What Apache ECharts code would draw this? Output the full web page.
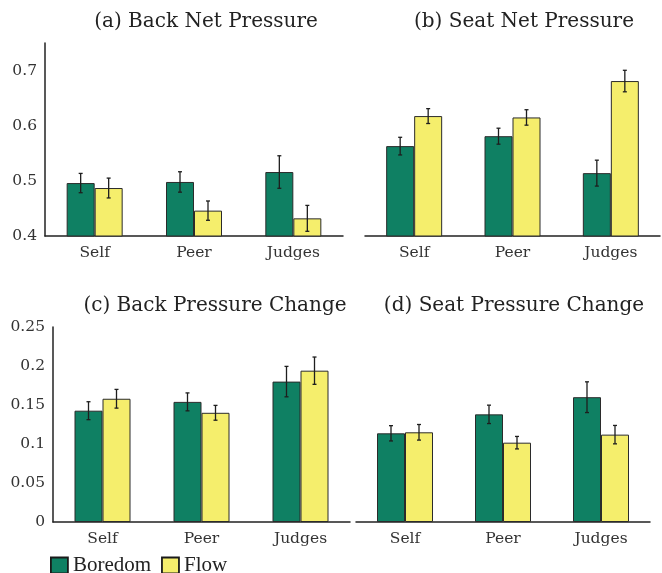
<!DOCTYPE html>
<html>
<head>
<meta charset="utf-8">
<script src="https://cdn.jsdelivr.net/npm/echarts@6/dist/echarts.min.js"></script>
<style>
html,body{margin:0;padding:0;background:#fff;}
#chart{width:662px;height:573px;}
</style>
</head>
<body>
<div id="chart"></div>
<script>
// ---- data ----
const categories = ['Self', 'Peer', 'Judges'];
const seriesNames = ['Boredom', 'Flow'];
const panelTitles = ['(a) Back Net Pressure', '(b) Seat Net Pressure', '(c) Back Pressure Change', '(d) Seat Pressure Change'];

const backNetBoredom = [0.496, 0.498, 0.516];
const backNetBoredomErr = [0.0175, 0.0185, 0.0295];
const backNetFlow = [0.487, 0.446, 0.432];
const backNetFlowErr = [0.018, 0.0175, 0.0235];

const seatNetBoredom = [0.563, 0.581, 0.514];
const seatNetBoredomErr = [0.016, 0.0145, 0.0235];
const seatNetFlow = [0.6175, 0.615, 0.681];
const seatNetFlowErr = [0.0135, 0.014, 0.0195];

const backChangeBoredom = [0.1427, 0.154, 0.180];
const backChangeBoredomErr = [0.0115, 0.0115, 0.0195];
const backChangeFlow = [0.158, 0.140, 0.194];
const backChangeFlowErr = [0.012, 0.0095, 0.0175];

const seatChangeBoredom = [0.1137, 0.138, 0.160];
const seatChangeBoredomErr = [0.0098, 0.0118, 0.0197];
const seatChangeFlow = [0.115, 0.1017, 0.112];
const seatChangeFlowErr = [0.010, 0.008, 0.0118];

const topTicks = [0.4, 0.5, 0.6, 0.7];
const bottomTicks = [0, 0.05, 0.1, 0.15, 0.2, 0.25];

// ---- styling / layout ----
const GREEN = '#0f8063';
const YELLOW = '#f5ee6c';
const EDGE = '#2b2b2b';
const BAR_W = 28;
const TITLE_FONT = '"DejaVu Serif", serif';
const LEGEND_FONT = '"Liberation Serif", serif';

const panels = [
  {b: backNetBoredom, be: backNetBoredomErr, f: backNetFlow, fe: backNetFlowErr},
  {b: seatNetBoredom, be: seatNetBoredomErr, f: seatNetFlow, fe: seatNetFlowErr},
  {b: backChangeBoredom, be: backChangeBoredomErr, f: backChangeFlow, fe: backChangeFlowErr},
  {b: seatChangeBoredom, be: seatChangeBoredomErr, f: seatChangeFlow, fe: seatChangeFlowErr}
];

const grids = [
  {left: 45, top: 43, width: 298, height: 193},
  {left: 365, top: 43, width: 295, height: 193},
  {left: 53, top: 327, width: 297, height: 195},
  {left: 356, top: 327, width: 294, height: 195}
].map(g => Object.assign({containLabel: false, outerBoundsMode: 'none'}, g));

const titlePos = [[206, 22], [524, 22], [215, 306], [514, 306]];

const xAxes = grids.map((g, i) => ({
  type: 'category',
  gridIndex: i,
  data: categories,
  axisLine: {show: true, lineStyle: {color: '#222', width: 1.5}},
  axisTick: {show: false},
  axisLabel: {fontFamily: TITLE_FONT, fontSize: 15.5, color: '#333', margin: 9}
}));

function yAxisFor(i) {
  const top = i < 2;
  const ticks = top ? topTicks : bottomTicks;
  const showLabels = (i === 0 || i === 2);
  return {
    type: 'value',
    gridIndex: i,
    min: top ? 0.4 : 0,
    max: top ? 0.75 : 0.25,
    interval: ticks[1] - ticks[0],
    splitLine: {show: false},
    axisTick: {show: false},
    axisLine: {show: showLabels, lineStyle: {color: '#222', width: 1.5}},
    axisLabel: {
      show: showLabels,
      showMaxLabel: !top,
      fontFamily: TITLE_FONT, fontSize: 15.5, color: '#333', margin: 8,
      formatter: v => String(parseFloat(v.toFixed(3)))
    }
  };
}
const yAxes = grids.map((g, i) => yAxisFor(i));

const series = [];
panels.forEach((p, i) => {
  [[p.b, GREEN, 'Boredom'], [p.f, YELLOW, 'Flow']].forEach(([vals, color, name]) => {
    series.push({
      type: 'bar', name: name, xAxisIndex: i, yAxisIndex: i,
      data: vals, barWidth: BAR_W, barGap: '0%',
      itemStyle: {color: color, borderColor: EDGE, borderWidth: 1},
      emphasis: {disabled: true},
      z: 2
    });
  });
});
panels.forEach((p, i) => {
  [[p.b, p.be, -1], [p.f, p.fe, 1]].forEach(([vals, errs, side]) => {
    series.push({
      type: 'custom', xAxisIndex: i, yAxisIndex: i, z: 5,
      silent: true,
      data: vals.map((v, k) => [k, v - errs[k], v + errs[k]]),
      encode: {x: 0, y: [1, 2]},
      renderItem: function (params, api) {
        const lo = api.coord([api.value(0), api.value(1)]);
        const hi = api.coord([api.value(0), api.value(2)]);
        const x = lo[0] + side * BAR_W / 2;
        const cap = 2;
        const st = {stroke: '#1e1e1e', lineWidth: 1.3};
        return {
          type: 'group',
          children: [
            {type: 'line', shape: {x1: x, y1: lo[1], x2: x, y2: hi[1]}, style: st},
            {type: 'line', shape: {x1: x - cap, y1: lo[1], x2: x + cap, y2: lo[1]}, style: st},
            {type: 'line', shape: {x1: x - cap, y1: hi[1], x2: x + cap, y2: hi[1]}, style: st}
          ]
        };
      }
    });
  });
});

const option = {
  backgroundColor: '#fff',
  animation: false,
  grid: grids,
  xAxis: xAxes,
  yAxis: yAxes,
  legend: {
    data: seriesNames,
    left: 50, top: 555,
    icon: 'rect',
    itemWidth: 17, itemHeight: 16,
    itemGap: 10,
    padding: 0,
    itemStyle: {borderWidth: 1.8, borderColor: '#1a1a1a'},
    textStyle: {fontFamily: LEGEND_FONT, fontSize: 21, color: '#222', padding: [0, 0, 0, 0]},
    selectedMode: false
  },
  graphic: panelTitles.map((t, i) => ({
    type: 'text',
    x: titlePos[i][0], y: titlePos[i][1],
    style: {text: t, fontFamily: TITLE_FONT, fontSize: 20, fill: '#222', align: 'center', verticalAlign: 'middle'}
  })),
  series: series
};

const chart = echarts.init(document.getElementById('chart'));
chart.setOption(option);
</script>
</body>
</html>
